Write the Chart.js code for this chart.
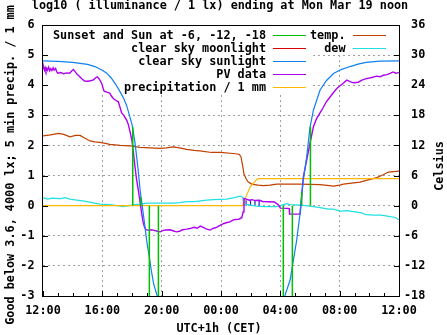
<!DOCTYPE html>
<html>
<head>
<meta charset="utf-8">
<script src="https://cdn.jsdelivr.net/npm/chart.js@4.4.1/dist/chart.umd.min.js"></script>
<style>
body { margin: 0; background: #fff; }
#wrap { width: 447px; height: 335px; }
</style>
</head>
<body>
<div id="wrap"><canvas id="lux"></canvas></div>
<script>
// hours since 12:00 on the x axis, log10(lux) on the left, Celsius on the right
const titleText = 'log10 ( illuminance / 1 lx) ending at Mon Mar 19 noon'
const xTitle = 'UTC+1h (CET)'
const yTitle = 'Good below 3.6, 4000 lx; 5 min precip. / 1 mm'
const y2Title = 'Celsius'

const sunEventHours = [6.05, 6.58, 7.17, 7.78, 16.2, 16.81, 17.44, 18.03]
const sunEventValues = [2.62, 0.3, -3, -3, -3, -3, 0.45, 2.62]

const moonHours = []
const moonValues = []

const sunHours = [0, 1, 2, 3, 3.5, 4, 4.3, 4.6, 4.9, 5.2, 5.45, 5.64, 5.8, 6.0, 6.2, 6.4, 6.55, 6.62, 6.7, 6.85, 7.0, 7.15, 7.3, 7.46, 7.7, 7.9, 8.1,
  12, 16.0, 16.2, 16.32, 16.66, 16.88, 17.1, 17.33, 17.44, 17.55, 17.77, 18.0, 18.23, 18.45, 18.68, 19.1, 19.58, 20.1, 20.7, 21.3, 21.8, 22.7, 24]
const sunValues = [4.81, 4.79, 4.76, 4.69, 4.62, 4.5, 4.4, 4.24, 4.03, 3.78, 3.55, 3.32, 3.05, 2.7, 2.1, 1.25, 0.5, 0.25, -0.05, -0.6, -1.2, -1.65, -2.15, -2.6, -3.0, -3.4, -3.8,
  null, -3.8, -3.3, -2.97, -2.47, -1.81, -1.15, -0.26, 0.4, 0.85, 1.6, 2.6, 3.17, 3.5, 3.84, 4.15, 4.39, 4.52, 4.62, 4.71, 4.76, 4.8, 4.81]

const pvHours = [0, 0.05, 0.1, 0.15, 0.2, 0.25, 0.3, 0.38, 0.45, 0.52, 0.6, 0.68, 0.75, 0.85, 0.92, 1.0, 1.2, 1.4, 1.6, 1.8, 1.95, 2.05, 2.15, 2.3, 2.45, 2.6, 2.8,
  3.0, 3.2, 3.4, 3.55, 3.66, 3.8, 3.96, 4.05, 4.12, 4.3, 4.5, 4.6, 4.74, 4.9, 5.08, 5.2, 5.3, 5.45, 5.64, 5.75, 5.87, 6.0, 6.1, 6.2, 6.3, 6.43, 6.55, 6.65,
  6.75, 6.85, 6.95, 7.1, 7.3, 7.5, 7.7, 7.9, 8.1, 8.3, 8.56, 8.8, 9.0, 9.2, 9.4, 9.7, 9.9, 10.2, 10.4, 10.6, 10.8, 11.0, 11.26, 11.5, 11.7, 11.9, 12.16,
  12.4, 12.6, 12.8, 12.95, 13.2, 13.4, 13.5, 13.55, 13.7, 13.9, 14.1, 14.3, 14.6, 14.8, 15.2, 15.6, 15.8, 15.9, 16.0, 16.5, 16.6, 16.62, 17.0, 17.33,
  17.44, 17.55, 17.77, 18.0, 18.23, 18.45, 18.79, 19.1, 19.35, 19.8, 20.2, 20.48, 20.7, 20.93, 21.26, 21.5, 21.8, 22.1, 22.5, 22.7, 22.95, 23.2, 23.4,
  23.6, 23.8, 24]
const pvValues = [4.55, 4.6, 4.5, 4.58, 4.48, 4.56, 4.5, 4.6, 4.48, 4.55, 4.49, 4.58, 4.5, 4.56, 4.45, 4.4, 4.42, 4.38, 4.41, 4.4, 4.48, 4.52, 4.46, 4.36, 4.3, 4.22, 4.14,
  4.13, 4.15, 4.18, 4.25, 4.28, 4.2, 4.06, 3.9, 3.8, 3.77, 3.74, 3.65, 3.56, 3.5, 3.45, 3.25, 3.08, 3.0, 2.84, 2.7, 2.45, 2.15, 1.75, 1.3, 0.9, 0.5, 0.1, -0.25,
  -0.55, -0.72, -0.8, -0.82, -0.8, -0.82, -0.85, -0.87, -0.82, -0.81, -0.8, -0.84, -0.87, -0.85, -0.8, -0.78, -0.76, -0.72, -0.75, -0.68, -0.72, -0.77, -0.81, -0.75, -0.72, -0.66, -0.6,
  -0.56, -0.54, -0.48, -0.46, -0.45, -0.4, -0.2, 0.24, 0.22, 0.18, 0.2, 0.17, 0.18, 0.14, 0.13, 0.12, 0.05, 0.01, -0.08, -0.09, -0.1, -0.28, -0.28, -0.28,
  0.3, 0.96, 1.5, 2.07, 2.62, 2.9, 3.17, 3.45, 3.61, 3.89, 4.05, 4.17, 4.12, 4.08, 4.1, 4.17, 4.22, 4.25, 4.3, 4.28, 4.33, 4.35, 4.39,
  4.44, 4.4, 4.42]

const rainHours = [0, 13.45, 13.6, 13.73, 13.96, 14.18, 14.41, 14.52, 24]
const rainValues = [0, 0, 0.2, 0.35, 0.62, 0.74, 0.87, 0.9, 0.9]

const tempHours = [0, 0.5, 1.05, 1.4, 1.82, 2.2, 2.5, 2.8, 3.17, 3.5, 3.84, 4.2, 4.5, 5.2, 5.87, 6.54, 7.2, 7.89, 8.3, 8.79, 9.2, 9.68, 10.2, 10.58, 11.37, 11.93,
  12.83, 13.1, 13.24, 13.35, 13.45, 13.55, 13.7, 13.84, 14.07, 14.5, 14.85, 15.3, 15.76, 17.33, 18.68, 19.3, 19.58, 20.0, 20.25, 20.8, 21.37, 22.0, 22.5, 22.9, 23.29, 24]
const tempCelsius = [13.9, 14.1, 14.4, 14.2, 13.7, 14.0, 14.0, 13.5, 12.9, 12.7, 12.6, 12.4, 12.2, 12.0, 11.9, 11.6, 11.5, 11.4, 11.5, 11.7, 11.5, 11.2, 11.0, 10.9, 10.6, 10.6,
  10.4, 10.3, 10.2, 9.7, 8.1, 6.3, 5.3, 4.7, 4.3, 4.1, 4.0, 4.1, 4.3, 4.3, 4.2, 4.0, 3.9, 4.1, 4.3, 4.5, 4.7, 5.2, 5.6, 6.1, 6.7, 6.9]

const dewHours = [0, 0.3, 0.6, 1.17, 1.5, 1.8, 2.27, 2.8, 3.3, 3.84, 4.5, 5.0, 5.4, 5.8, 6.2, 6.54, 7.0, 7.66, 8.2, 8.79, 9.2, 9.68, 10.2, 10.5, 11.03, 11.5,
  12.38, 12.9, 13.28, 13.45, 13.55, 13.8, 14.41, 15.0, 15.76, 16.43, 16.66, 17.33, 18.0, 18.68, 19.24, 19.58, 20.03, 20.5, 20.93, 21.4, 21.8, 22.28, 22.8, 23.4, 23.7, 24]
const dewCelsius = [1.6, 1.3, 1.5, 1.4, 1.6, 1.3, 1.1, 0.9, 0.6, 0.3, 0.2, 0.0, -0.2, 0.0, 0.2, 0.3, 0.5, 0.5, 0.5, 0.5, 0.6, 0.8, 0.8, 0.9, 1.1, 1.2,
  1.3, 1.6, 1.9, 1.7, 0.3, 0.2, -0.1, -0.2, -0.2, 0.4, 0.2, 0.1, -0.1, -0.4, -0.7, -0.7, -1.1, -1.0, -1.2, -1.4, -1.8, -1.9, -1.9, -2.2, -2.3, -2.8]

const spikeHours = [13.69, 13.99, 14.29, 14.57]
const spikeValues = [0.18, 0.18, 0.18, 0.17]

function pts(hours, values) {
  return hours.map((h, i) => ({ x: h, y: values[i] }))
}
// vertical lines from 0 to each value, broken by gaps
function impulses(hours, values) {
  const out = []
  hours.forEach((h, i) => {
    out.push({ x: h, y: 0 }, { x: h, y: values[i] }, { x: h, y: null })
  })
  return out
}

const monoFont = { family: '"DejaVu Sans Mono", monospace', size: 11.8, weight: 'bold' }
const canvasFont = 'bold 11.8px "DejaVu Sans Mono", monospace'

const gnuplotLook = {
  id: 'gnuplotLook',
  beforeDatasetsDraw(chart) {
    // opaque key background, drawn over the grid
    const ctx = chart.ctx
    const a = chart.chartArea
    ctx.save()
    ctx.fillStyle = '#fff'
    ctx.fillRect(a.left + 1, a.top + 1, 311 - a.left - 1, 92 - a.top)
    ctx.fillRect(311, a.top + 1, a.right - 312, 53 - a.top)
    ctx.restore()
  },
  afterDatasetsDraw(chart) {
    const ctx = chart.ctx
    const a = chart.chartArea
    const xs = chart.scales.x
    const ys = chart.scales.y
    ctx.save()
    ctx.strokeStyle = '#000'
    ctx.lineWidth = 1
    ctx.beginPath()
    ys.ticks.forEach(t => {
      const py = Math.round(ys.getPixelForValue(t.value)) + 0.5
      ctx.moveTo(a.left, py); ctx.lineTo(a.left + 5, py)
      ctx.moveTo(a.right - 5, py); ctx.lineTo(a.right, py)
    })
    for (let h = 0; h <= 24; h++) {
      const px = Math.round(xs.getPixelForValue(h)) + 0.5
      const len = h % 4 === 0 ? 5 : 3
      ctx.moveTo(px, a.bottom); ctx.lineTo(px, a.bottom - len)
    }
    ctx.stroke()
    ctx.strokeRect(Math.round(a.left) - 0.5, Math.round(a.top) + 0.5, Math.round(a.right - a.left) + 1, Math.round(a.bottom - a.top))
    ctx.restore()
  },
  afterDraw(chart) {
    const ctx = chart.ctx
    ctx.save()
    ctx.font = canvasFont
    ctx.fillStyle = '#000'
    ctx.textBaseline = 'alphabetic'
    ctx.textAlign = 'center'
    ctx.fillText(titleText, 220, 9)
    ctx.fillText(xTitle, 219, 331.5)
    ctx.textBaseline = 'middle'
    ctx.save()
    ctx.translate(11, 165)
    ctx.rotate(-Math.PI / 2)
    ctx.fillText(yTitle, 0, 0)
    ctx.restore()
    ctx.save()
    ctx.translate(440, 166)
    ctx.rotate(-Math.PI / 2)
    ctx.fillText(y2Title, 0, 0)
    ctx.restore()

    // key: five rows on the left column, the rest on the right
    const entries = chart.data.datasets.filter(d => d.label)
    const textRight = [266, 345.5]
    const sampleLeft = [273, 353]
    ctx.textAlign = 'right'
    entries.forEach((d, i) => {
      const col = i < 5 ? 0 : 1
      const row = i % 5
      const y = 35 + row * 13
      ctx.fillStyle = '#000'
      ctx.fillText(d.label, textRight[col], y + 0.5)
      ctx.strokeStyle = d.borderColor
      ctx.lineWidth = 1
      ctx.beginPath()
      ctx.moveTo(sampleLeft[col], Math.round(y) + 0.5)
      ctx.lineTo(sampleLeft[col] + 33, Math.round(y) + 0.5)
      ctx.stroke()
    })
    ctx.restore()
  }
}

const hourLabel = v => String((12 + v) % 24).padStart(2, '0') + ':00'
const edgeless = (lo, hi) => c => (c.tick.value === lo || c.tick.value === hi) ? 'rgba(0,0,0,0)' : '#a0a0a0'

new Chart('lux', {
  type: 'line',
  data: {
    datasets: [{
      label: 'Sunset and Sun at -6, -12, -18',
      data: impulses(sunEventHours, sunEventValues),
      borderColor: '#00c000',
      borderWidth: 1.5
    }, {
      label: 'clear sky moonlight',
      data: pts(moonHours, moonValues),
      borderColor: '#dd0000',
      borderWidth: 1
    }, {
      label: 'clear sky sunlight',
      data: pts(sunHours, sunValues),
      borderColor: '#1080f0',
      borderWidth: 1.2
    }, {
      label: 'PV data',
      data: pts(pvHours, pvValues),
      borderColor: '#b000f0',
      borderWidth: 1.4
    }, {
      label: 'precipitation / 1 mm',
      data: pts(rainHours, rainValues),
      borderColor: '#ffb800',
      borderWidth: 1.2
    }, {
      label: 'temp.',
      data: pts(tempHours, tempCelsius),
      yAxisID: 'y2',
      borderColor: '#c04000',
      borderWidth: 1.2
    }, {
      label: 'dew',
      data: pts(dewHours, dewCelsius),
      yAxisID: 'y2',
      borderColor: '#20e0e0',
      borderWidth: 1.2
    }, {
      label: '',
      data: impulses(spikeHours, spikeValues),
      borderColor: '#1828c0',
      borderWidth: 1.2
    }]
  },
  options: {
    responsive: true,
    maintainAspectRatio: false,
    animation: false,
    spanGaps: false,
    layout: { padding: { top: 25, left: 0, right: 0, bottom: 0 } },
    elements: { point: { radius: 0 }, line: { tension: 0 } },
    plugins: { legend: { display: false }, tooltip: { enabled: false } },
    scales: {
      x: {
        type: 'linear',
        min: 0,
        max: 24,
        afterFit: s => { s.height = 39 },
        ticks: { stepSize: 4, autoSkip: false, maxRotation: 0, padding: 8, color: '#000', font: monoFont, callback: hourLabel },
        grid: { color: edgeless(0, 24), drawTicks: false },
        border: { display: false, dash: [2, 3] }
      },
      y: {
        min: -3,
        max: 6,
        afterFit: s => { s.width = 43 },
        ticks: { stepSize: 1, padding: 8.5, color: '#000', font: monoFont },
        grid: { color: edgeless(-3, 6), drawTicks: false },
        border: { display: false, dash: [2, 3] }
      },
      y2: {
        position: 'right',
        min: -18,
        max: 36,
        afterFit: s => { s.width = 48 },
        ticks: { stepSize: 6, padding: 5, color: '#000', font: monoFont, callback: v => (v < 0 ? '' : ' ') + v },
        grid: { display: false, drawTicks: false },
        border: { display: false }
      }
    }
  },
  plugins: [gnuplotLook]
})
</script>
</body>
</html>
